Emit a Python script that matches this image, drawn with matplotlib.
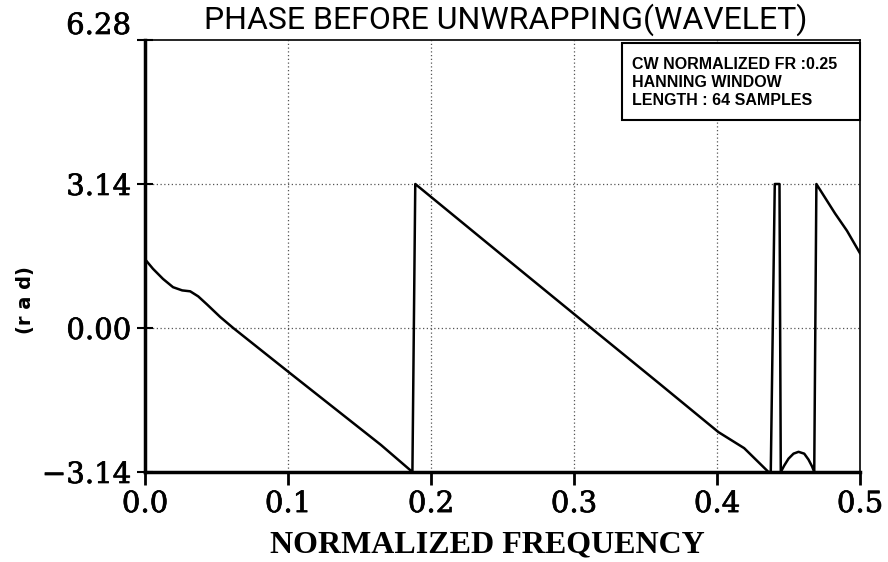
import matplotlib
matplotlib.use("Agg")
import matplotlib.pyplot as plt
import matplotlib.patheffects as pe
from matplotlib.patches import Rectangle

# ----------------------------------------
# Data
# ----------------------------------------

freq = [0.0, 0.0056, 0.0126, 0.0196, 0.026, 0.0316, 0.0372, 0.0435, 0.0526,
        0.0617, 0.100, 0.165, 0.187, 0.189, 0.250, 0.312, 0.360, 0.401,
        0.419, 0.436, 0.4376, 0.4404, 0.4437, 0.4446, 0.447, 0.450, 0.4535,
        0.457, 0.461, 0.464, 0.4665, 0.468, 0.4695, 0.4825, 0.4909, 0.500]

phase = [1.50, 1.29, 1.07, 0.89, 0.82, 0.80, 0.69, 0.51, 0.24,
         0.00, -0.95, -2.55, -3.14, 3.14, 1.58, 0.00, -1.22, -2.27,
         -2.62, -3.14, -3.14, 3.14, 3.14, -3.14, -3.00, -2.85, -2.74,
         -2.70, -2.74, -2.87, -3.02, -3.14, 3.14, 2.50, 2.12, 1.63]

x_ticks = [0.0, 0.1, 0.2, 0.3, 0.4, 0.5]
x_labels = ["0.0", "0.1", "0.2", "0.3", "0.4", "0.5"]
y_ticks = [-3.14, 0.0, 3.14, 6.28]
y_labels = ["\u22123.14", "0.00", "3.14", "6.28"]

info_lines = ["CW NORMALIZED FR :0.25", "HANNING WINDOW", "LENGTH : 64 SAMPLES"]

# ----------------------------------------
# Figure
# ----------------------------------------

fig = plt.figure(figsize=(8.88, 5.62), dpi=100)
ax = fig.add_axes([145 / 888, 1 - 472 / 562, 715 / 888, 432 / 562])

ax.plot(freq, phase, color="black", linewidth=1.8)

ax.set_xlim(0, 0.5)
ax.set_ylim(-3.14, 6.28)

# slightly heavier than regular serif, lighter than bold
thick = [pe.withStroke(linewidth=0.5, foreground="black")]
tick_font = dict(family="DejaVu Serif", fontsize=21)
ax.set_xticks(x_ticks)
ax.set_xticklabels(x_labels, **tick_font)
ax.set_yticks(y_ticks)
ax.set_yticklabels(y_labels, **tick_font)
for lbl in ax.get_xticklabels() + ax.get_yticklabels():
    lbl.set_path_effects(thick)

# top label sits a bit higher in the original
ax.get_yticklabels()[-1].set_va("bottom")

ax.tick_params(axis="x", direction="out", length=9, width=2, pad=4)
ax.tick_params(axis="y", direction="inout", length=12, width=1.5, pad=4)

for side in ["left", "bottom"]:
    ax.spines[side].set_linewidth(2.5)
for side in ["top", "right"]:
    ax.spines[side].set_linewidth(1.2)

# dotted grid, but not on the frame lines
for xv in x_ticks[1:-1]:
    ax.axvline(xv, color="#555555", linestyle=(0, (1, 2)), linewidth=0.9, zorder=0)
for yv in [0.0, 3.14]:
    ax.axhline(yv, color="#555555", linestyle=(0, (1, 2)), linewidth=0.9, zorder=0)

# info box in the top right corner
ax.add_patch(Rectangle((0.667, 0.815), 0.333, 0.178, transform=ax.transAxes,
                       facecolor="white", edgecolor="black", linewidth=1.5,
                       zorder=3, clip_on=False))
for i, line in enumerate(info_lines):
    ax.text(0.681, 0.944 - i * 0.042, line, transform=ax.transAxes,
            family="Liberation Sans", fontweight="bold", fontsize=11.5,
            va="center", ha="left", zorder=4)

fig.text(506 / 888, 1 - 20 / 562, "PHASE BEFORE UNWRAPPING(WAVELET)",
         family="Roboto", fontsize=23, ha="center", va="center")
fig.text(487 / 888, 1 - 545 / 562, "NORMALIZED FREQUENCY",
         family="Liberation Serif", fontweight="bold", fontsize=23,
         ha="center", va="center")
fig.text(25 / 888, 1 - 300 / 562, "(r a d)", family="DejaVu Sans",
         fontweight="bold", fontsize=14, rotation=90, ha="center", va="center")

fig.savefig("out.png", dpi=100)
